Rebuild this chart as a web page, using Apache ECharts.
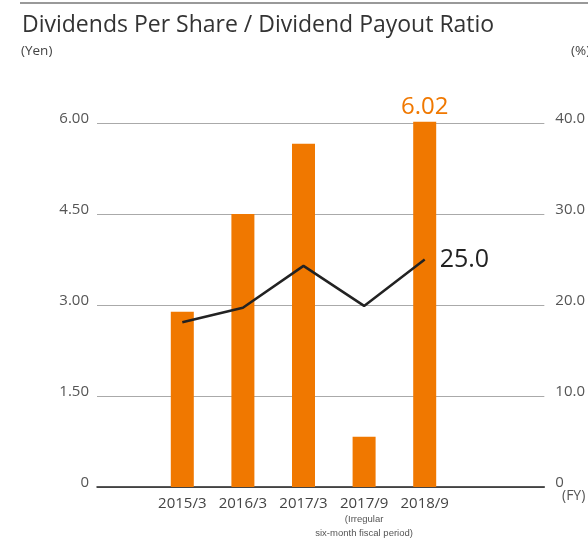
<!DOCTYPE html>
<html><head><meta charset="utf-8">
<script src="https://cdn.jsdelivr.net/npm/echarts@6/dist/echarts.min.js"></script>
<style>html,body{margin:0;padding:0;background:#fff}#c{width:588px;height:540px}</style>
</head><body><div id="c"></div>
<script>
const categories = ['2015/3', '2016/3', '2017/3', '2017/9', '2018/9'];
const dividendsPerShare = [2.89, 4.50, 5.66, 0.83, 6.02];
const payoutRatio = [18.1, 19.7, 24.3, 19.9, 25.0];
const leftAxis = { min: 0, max: 6, interval: 1.5 };
const rightAxis = { min: 0, max: 40, interval: 10 };

const FONT = '"Open Sans", Lato, sans-serif';
const ORANGE = '#f07800';
const last = categories.length - 1;

const chart = echarts.init(document.getElementById('c'));
chart.setOption({
  animation: false,
  backgroundColor: '#fff',
  title: {
    text: 'Dividends Per Share / Dividend Payout Ratio',
    left: 17, top: 9,
    textStyle: { fontFamily: FONT, fontSize: 23, fontWeight: 400, color: '#333' }
  },
  graphic: [
    { type: 'line', shape: { x1: 20, y1: 3, x2: 588, y2: 3 }, style: { stroke: '#777', lineWidth: 1.5 } },
    { type: 'text', left: 21, top: 44, style: { text: '(Yen)', fontFamily: FONT, fontSize: 13.5, fill: '#444' } },
    { type: 'text', left: 571, top: 44, style: { text: '(%)', fontFamily: FONT, fontSize: 13.5, fill: '#444' } },
    { type: 'text', left: 562, top: 489, style: { text: '(FY)', fontFamily: FONT, fontSize: 14, fill: '#555' } }
  ],
  grid: [
    { left: 97, right: 36, top: 123, bottom: 53 },
    { left: 152, right: 133, top: 123, bottom: 53 }
  ],
  xAxis: [
    { gridIndex: 0, type: 'value', min: 0, max: 1, show: true,
      axisLine: { show: true, lineStyle: { color: '#222', width: 1.5 } },
      axisTick: { show: false }, axisLabel: { show: false }, splitLine: { show: false } },
    { gridIndex: 1, type: 'category', data: categories,
      axisLine: { show: false }, axisTick: { show: false }, splitLine: { show: false },
      axisLabel: {
        interval: 0, margin: 8, color: '#444', fontFamily: FONT, fontSize: 15, lineHeight: 17,
        formatter: (v) => v === '2017/9' ? v + '\n{s|(Irregular}\n{s|six-month fiscal period)}' : v,
        rich: { s: { fontFamily: '"Liberation Sans Narrow", "Liberation Sans", sans-serif', fontSize: 9.5, lineHeight: 14, color: '#555' } }
      } }
  ],
  yAxis: [
    { gridIndex: 0, type: 'value', position: 'left', min: leftAxis.min, max: leftAxis.max, interval: leftAxis.interval,
      axisLine: { show: false }, axisTick: { show: false },
      splitLine: { show: true, lineStyle: { color: '#aaa', width: 1 } },
      axisLabel: { margin: 8, color: '#555', fontFamily: FONT, fontSize: 15, verticalAlign: 'bottom', lineHeight: 8,
        formatter: (v) => v === 0 ? '0' : v.toFixed(2) } },
    { gridIndex: 0, type: 'value', position: 'right', min: rightAxis.min, max: rightAxis.max, interval: rightAxis.interval,
      axisLine: { show: false }, axisTick: { show: false }, splitLine: { show: false },
      axisLabel: { margin: 11, color: '#555', fontFamily: FONT, fontSize: 15, verticalAlign: 'bottom', lineHeight: 8,
        formatter: (v) => v === 0 ? '0' : v.toFixed(1) } },
    { gridIndex: 1, type: 'value', min: leftAxis.min, max: leftAxis.max, show: false, splitLine: { show: false } },
    { gridIndex: 1, type: 'value', min: rightAxis.min, max: rightAxis.max, show: false, splitLine: { show: false } }
  ],
  series: [
    { type: 'bar', xAxisIndex: 1, yAxisIndex: 2, barWidth: 23, clip: false,
      itemStyle: { color: ORANGE },
      data: dividendsPerShare.map((v, i) => i === last ? {
        value: v,
        label: { show: true, position: 'top', distance: 3, color: ORANGE, fontFamily: FONT, fontSize: 24,
          formatter: (p) => p.value.toFixed(2) }
      } : v) },
    { type: 'line', xAxisIndex: 1, yAxisIndex: 3, symbol: 'none', clip: false,
      lineStyle: { color: '#222', width: 2.5 },
      endLabel: { show: true, distance: 15, color: '#222', fontFamily: FONT, fontSize: 25,
        formatter: (p) => Number(p.value).toFixed(1) },
      data: payoutRatio }
  ]
});
</script></body></html>
